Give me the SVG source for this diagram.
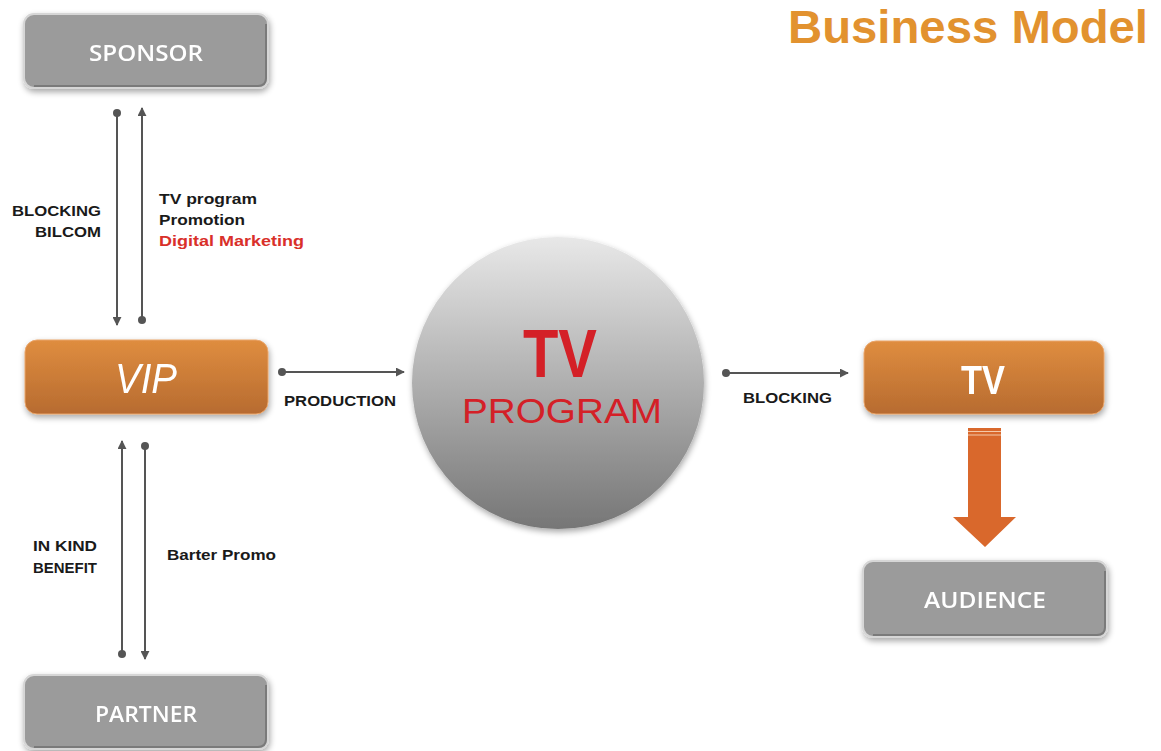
<svg xmlns="http://www.w3.org/2000/svg" width="1161" height="751" viewBox="0 0 1161 751">
<defs>
  <linearGradient id="gOrange" x1="0" y1="0" x2="0" y2="1">
    <stop offset="0" stop-color="#df8d3f"/>
    <stop offset="1" stop-color="#b76b30"/>
  </linearGradient>
  <linearGradient id="gCircle" x1="0" y1="0" x2="0" y2="1">
    <stop offset="0" stop-color="#e8e8e8"/>
    <stop offset="1" stop-color="#767676"/>
  </linearGradient>
  <filter id="shadow" x="-20%" y="-20%" width="140%" height="150%">
    <feGaussianBlur in="SourceAlpha" stdDeviation="3"/>
    <feOffset dx="1" dy="3"/>
    <feComponentTransfer><feFuncA type="linear" slope="0.35"/></feComponentTransfer>
    <feMerge><feMergeNode/><feMergeNode in="SourceGraphic"/></feMerge>
  </filter>
  <marker id="arr" viewBox="0 0 10 10" refX="9" refY="5" markerWidth="9" markerHeight="9" orient="auto-start-reverse" markerUnits="userSpaceOnUse">
    <path d="M0,0 L10,5 L0,10 z" fill="#555"/>
  </marker>
  <marker id="dot" viewBox="0 0 10 10" refX="5" refY="5" markerWidth="8" markerHeight="8" markerUnits="userSpaceOnUse">
    <circle cx="5" cy="5" r="5" fill="#555"/>
  </marker>
</defs>
<style>
  .gray { fill:#9b9b9b; stroke:#d6d6d6; stroke-width:2; }
  .grayEdge { fill:none; stroke:#7a7a7a; stroke-width:2; }
  .boxText { font-family:"Open Sans", "Liberation Sans", Arial, sans-serif; font-weight:600; font-size:22px; fill:#ffffff; text-anchor:middle; }
  .lbl { font-family:"Liberation Sans", Arial, sans-serif; font-size:14.5px; font-weight:bold; fill:#1a1a1a; }
  .conn { stroke:#555; stroke-width:2; fill:none; }
</style>
<rect width="1161" height="751" fill="#ffffff"/>

<text x="788" y="43" font-family="Liberation Sans, Arial, sans-serif" font-size="46" font-weight="bold" fill="#e2922f" textLength="360" lengthAdjust="spacingAndGlyphs">Business Model</text>

<g id="sponsor" filter="url(#shadow)">
  <rect class="gray" x="24" y="14" width="244" height="74" rx="10"/>
  <path class="grayEdge" d="M266,24 L266,78 Q266,86 258,86 L34,86"/>
  <text class="boxText" x="146" y="61" textLength="114" lengthAdjust="spacingAndGlyphs">SPONSOR</text>
</g>

<g id="vip" filter="url(#shadow)">
  <rect x="25" y="340" width="243" height="74" rx="12" fill="url(#gOrange)" stroke="#e9a56a" stroke-width="1"/>
  <text x="146" y="393" font-family="Liberation Sans, Arial, sans-serif" font-size="42" font-style="italic" fill="#ffffff" text-anchor="middle" textLength="62" lengthAdjust="spacingAndGlyphs">VIP</text>
</g>

<g id="partner" filter="url(#shadow)">
  <rect class="gray" x="24" y="675" width="244" height="74" rx="10"/>
  <path class="grayEdge" d="M266,685 L266,739 Q266,747 258,747 L34,747"/>
  <text class="boxText" x="146" y="722" textLength="102" lengthAdjust="spacingAndGlyphs">PARTNER</text>
</g>

<g id="tvprogram">
  <circle cx="558" cy="383" r="146" fill="url(#gCircle)" filter="url(#shadow)"/>
  <text x="560" y="377" font-family="Liberation Sans, Arial, sans-serif" font-size="69" font-weight="bold" fill="#d42027" text-anchor="middle" textLength="74" lengthAdjust="spacingAndGlyphs">TV</text>
  <text x="562" y="423" font-family="Liberation Sans, Arial, sans-serif" font-size="35" fill="#d42027" text-anchor="middle" textLength="200" lengthAdjust="spacingAndGlyphs">PROGRAM</text>
</g>

<g id="tv" filter="url(#shadow)">
  <rect x="864" y="341" width="240" height="73" rx="12" fill="url(#gOrange)" stroke="#e9a56a" stroke-width="1"/>
  <text x="983" y="394" font-family="Liberation Sans, Arial, sans-serif" font-size="40" font-weight="bold" fill="#ffffff" text-anchor="middle" textLength="44" lengthAdjust="spacingAndGlyphs">TV</text>
</g>

<g id="audience" filter="url(#shadow)">
  <rect class="gray" x="863" y="561" width="244" height="76" rx="10"/>
  <path class="grayEdge" d="M1105,571 L1105,627 Q1105,635 1097,635 L873,635"/>
  <text class="boxText" x="985" y="608" textLength="122" lengthAdjust="spacingAndGlyphs">AUDIENCE</text>
</g>

<g id="connectors">
  <line class="conn" x1="117" y1="113" x2="117" y2="325" marker-start="url(#dot)" marker-end="url(#arr)"/>
  <line class="conn" x1="142" y1="320" x2="142" y2="108" marker-start="url(#dot)" marker-end="url(#arr)"/>
  <line class="conn" x1="122" y1="654" x2="122" y2="441" marker-start="url(#dot)" marker-end="url(#arr)"/>
  <line class="conn" x1="145" y1="446" x2="145" y2="659" marker-start="url(#dot)" marker-end="url(#arr)"/>
  <line class="conn" x1="282" y1="372" x2="404" y2="372" marker-start="url(#dot)" marker-end="url(#arr)"/>
  <line class="conn" x1="726" y1="373" x2="848" y2="373" marker-start="url(#dot)" marker-end="url(#arr)"/>
  <g id="bigArrow">
    <path d="M968,428 L1001,428 L1001,517 L1016,517 L985,547 L953,517 L968,517 Z" fill="#d9682c"/>
    <line x1="968" y1="431.5" x2="1001" y2="431.5" stroke="#f4c8a8" stroke-width="1.2"/>
    <line x1="968" y1="435" x2="1001" y2="435" stroke="#f4c8a8" stroke-width="1.2"/>
  </g>
</g>

<g id="labels">
  <text class="lbl" x="101" y="216" text-anchor="end" textLength="89" lengthAdjust="spacingAndGlyphs">BLOCKING</text>
  <text class="lbl" x="101" y="237" text-anchor="end" textLength="66" lengthAdjust="spacingAndGlyphs">BILCOM</text>
  <text class="lbl" x="159" y="204" textLength="98" lengthAdjust="spacingAndGlyphs">TV program</text>
  <text class="lbl" x="159" y="225" textLength="86" lengthAdjust="spacingAndGlyphs">Promotion</text>
  <text class="lbl" x="159" y="246" style="fill:#d9302a" textLength="145" lengthAdjust="spacingAndGlyphs">Digital Marketing</text>
  <text class="lbl" x="284" y="406" textLength="112" lengthAdjust="spacingAndGlyphs">PRODUCTION</text>
  <text class="lbl" x="743" y="403" textLength="89" lengthAdjust="spacingAndGlyphs">BLOCKING</text>
  <text class="lbl" x="33" y="551" textLength="64" lengthAdjust="spacingAndGlyphs">IN KIND</text>
  <text class="lbl" x="33" y="573" textLength="64" lengthAdjust="spacingAndGlyphs">BENEFIT</text>
  <text class="lbl" x="167" y="560" textLength="109" lengthAdjust="spacingAndGlyphs">Barter Promo</text>
</g>
</svg>
